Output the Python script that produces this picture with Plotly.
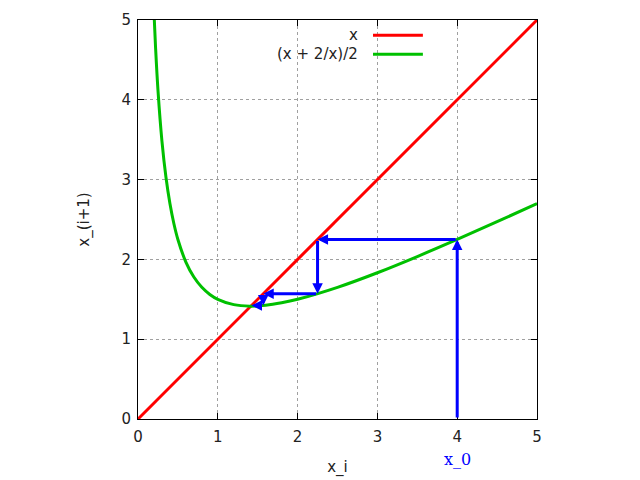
import plotly.graph_objects as go

# Data
line_x = [0, 5]
line_y = [0, 5]
curve_x = [0.2, 0.22, 0.25, 0.3, 0.35, 0.4, 0.45, 0.5, 0.6, 0.7, 0.8, 0.9, 1.0, 1.2, 1.4, 1.6, 1.8, 2.0, 2.5, 3.0, 3.5, 4.0, 4.5, 5.0]
curve_y = [5.1, 4.656, 4.125, 3.483, 3.032, 2.7, 2.447, 2.25, 1.967, 1.779, 1.65, 1.561, 1.5, 1.433, 1.414, 1.425, 1.456, 1.5, 1.65, 1.833, 2.036, 2.25, 2.472, 2.7]
iterates = [4.0, 2.25, 1.5694, 1.4219, 1.4142]
tick_vals = [0, 1, 2, 3, 4, 5]
legend_labels = ["x", "(x + 2/x)/2"]
legend_colors = ["#ff0000", "#00c000"]

fig = go.Figure()
fig.add_trace(go.Scatter(x=line_x, y=line_y, mode="lines",
                         line=dict(color=legend_colors[0], width=3), showlegend=False))
fig.add_trace(go.Scatter(x=curve_x, y=curve_y, mode="lines", line_shape="spline",
                         line=dict(color=legend_colors[1], width=3), showlegend=False))

# cobweb arrows
segments = [((iterates[0], 0), (iterates[0], iterates[1]))]
for i in range(len(iterates) - 2):
    a, b = iterates[i], iterates[i + 1]
    c = iterates[i + 2]
    segments.append(((a, b), (b, b)))
    segments.append(((b, b), (b, c)))
blue = "#0000ff"
for (x0, y0), (x1, y1) in segments[:6]:
    fig.add_annotation(x=x1, y=y1, ax=x0, ay=y0, xref="x", yref="y", axref="x", ayref="y",
                       showarrow=True, arrowhead=2, arrowsize=0.7, arrowwidth=3,
                       arrowcolor=blue, text="", standoff=0, startstandoff=0)

fig.add_annotation(x=4, y=0, xref="x", yref="y", text="x_0", showarrow=False,
                   yshift=-40, font=dict(family="DejaVu Serif", size=16, color=blue))

txt_font = dict(family="DejaVu Sans", size=15, color="#222222")

# manual legend (text left of sample line)
for i, (lab, col) in enumerate(zip(legend_labels, legend_colors)):
    yp = 0.962 - i * 0.048
    fig.add_annotation(x=0.556, y=yp, xref="paper", yref="paper", text=lab,
                       showarrow=False, xanchor="right", yanchor="middle", font=txt_font)
    fig.add_shape(type="line", xref="paper", yref="paper", x0=0.589, x1=0.714,
                  y0=yp, y1=yp, line=dict(color=col, width=3))

axis_common = dict(range=[0, 5], tickvals=tick_vals, ticks="inside", ticklen=6,
                   tickcolor="black", showline=True, linecolor="black", linewidth=1,
                   mirror="ticks", showgrid=True, gridcolor="#a0a0a0", griddash="dot",
                   gridwidth=1, zeroline=False, automargin=False, tickfont=txt_font)
fig.update_xaxes(**axis_common, ticklabelstandoff=4,
                 title=dict(text="x_i", standoff=16, font=txt_font))
fig.update_yaxes(**axis_common, ticklabelstandoff=3,
                 title=dict(text="x_(i+1)", standoff=28, font=txt_font))

fig.update_layout(width=640, height=480, plot_bgcolor="white", paper_bgcolor="white",
                  margin=dict(l=130, r=111, t=12, b=69, autoexpand=False), showlegend=False)

fig.write_html("out.html")
